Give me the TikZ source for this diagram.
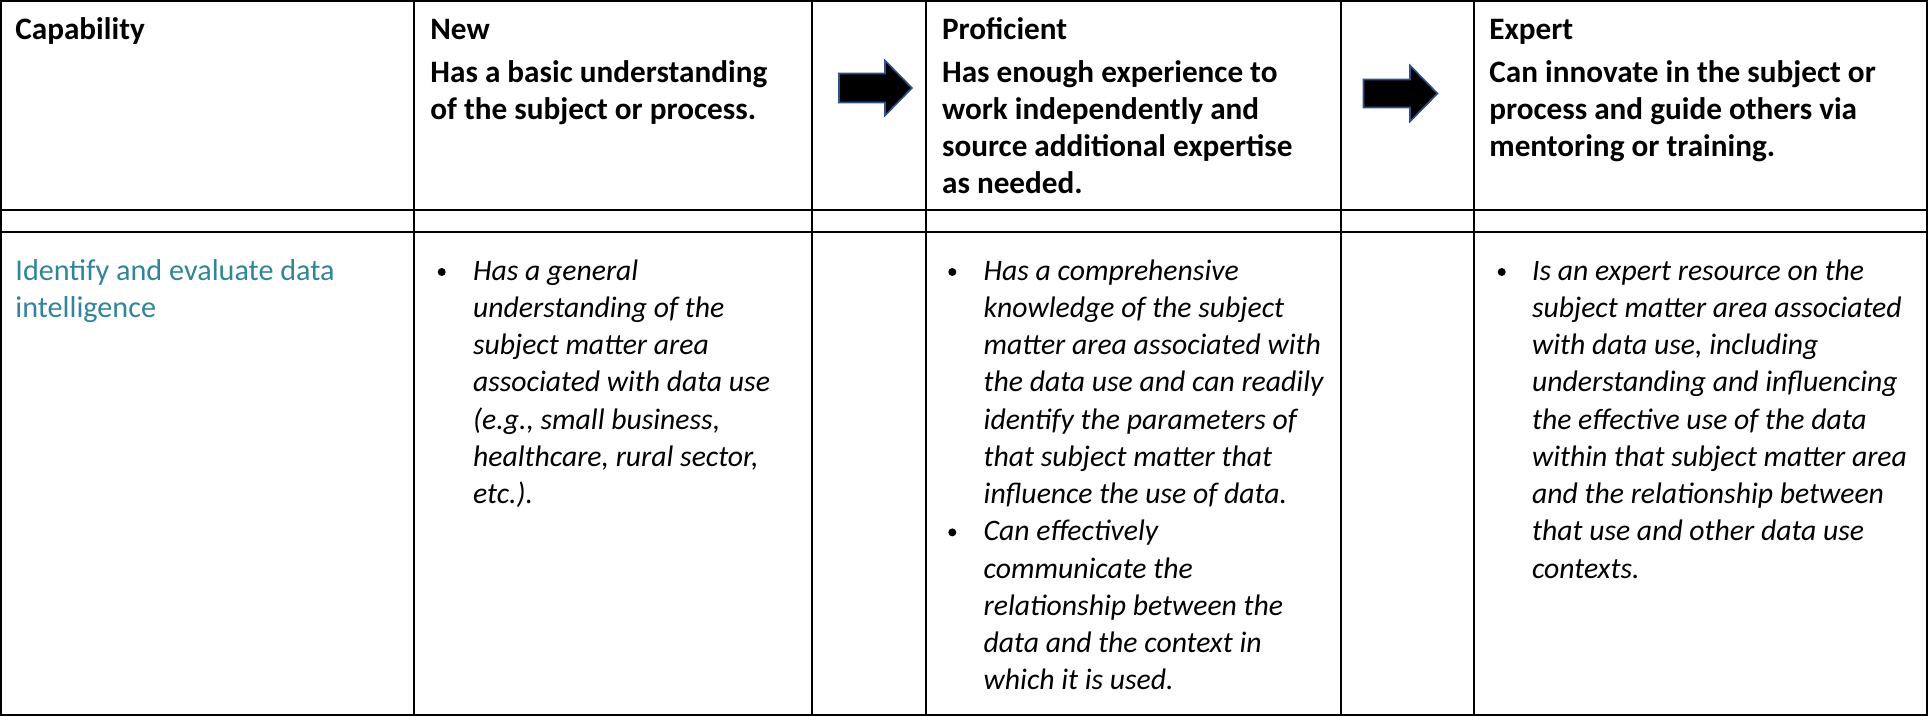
\documentclass[tikz,border=0pt]{standalone}
\usepackage{fontspec}
\setmainfont{Carlito}
\definecolor{capblue}{RGB}{49,132,155}
\definecolor{arrowline}{RGB}{47,82,143}
\begin{document}
\begin{tikzpicture}[x=0.5pt,y=-0.5pt,
  grid/.style={line width=1pt,black},
  hd/.style={anchor=north west,inner sep=0pt,align=left,font=\fontsize{15.6}{18.6}\selectfont\bfseries},
  bd/.style={anchor=north west,inner sep=0pt,align=left,font=\fontsize{14.85}{18.6}\selectfont\itshape},
  capt/.style={anchor=north west,inner sep=0pt,align=left,text=capblue,font=\fontsize{15.1}{18.6}\selectfont},
  dot/.style={circle,fill=black,inner sep=0pt,minimum size=4pt},
  bigarrow/.style={fill=black,draw=arrowline,line width=0.8pt,line join=miter}]
\useasboundingbox (0,0) rectangle (1928,716);
% table grid
\draw[grid] (1,1) rectangle (1927,715);
\draw[grid] (0,210) -- (1928,210);
\draw[grid] (0,232) -- (1928,232);
\foreach \x in {414,812,926,1341,1474}{\draw[grid] (\x,0) -- (\x,716);}
% header
\node[hd] (cap) at (15,12.96) {\strut Capability};
\node[hd] (newt) at (430,12.96) {\strut New};
\node[hd] (newd) at (430,55.96) {\strut Has a basic understanding\\of the subject or process.};
\node[hd] (prot) at (941.7,12.96) {\strut Proficient};
\node[hd] (prod) at (941.7,55.96) {\strut Has enough experience to\\work independently and\\source additional expertise\\as needed.};
\node[hd] (expt) at (1489,12.96) {\strut Expert};
\node[hd] (expd) at (1489,55.96) {\strut Can innovate in the subject or\\process and guide others via\\mentoring or training.};
% arrows
\draw[bigarrow] (839,73.5) -- (885,73.5) -- (885,60.5) -- (912,88) -- (885,115.5) -- (885,102.5) -- (839,102.5) -- cycle;
\draw[bigarrow] (1363.5,79.5) -- (1410,79.5) -- (1410,65.5) -- (1437.5,93.5) -- (1410,121.5) -- (1410,107.5) -- (1363.5,107.5) -- cycle;
% body
\node[capt] (capb) at (15,253.96) {\strut Identify and evaluate data\\intelligence};
\node[dot] (b1) at (441.7,272) {};
\node[bd] (newb) at (472.7,253.96) {\strut Has a general\\understanding of the\\subject matter area\\associated with data use\\(e.g., small business,\\healthcare, rural sector,\\etc.).};
\node[dot] (b2) at (952.3,272) {};
\node[bd] (prob1) at (983.3,253.96) {\strut Has a comprehensive\\knowledge of the subject\\matter area associated with\\the data use and can readily\\identify the parameters of\\that subject matter that\\influence the use of data.};
\node[dot] (b3) at (952.3,532.4) {};
\node[bd] (prob2) at (983.3,514.36) {\strut Can effectively\\communicate the\\relationship between the\\data and the context in\\which it is used.};
\node[dot] (b4) at (1501.7,272) {};
\node[bd] (expb) at (1531.7,253.96) {\strut Is an expert resource on the\\subject matter area associated\\with data use, including\\understanding and influencing\\the effective use of the data\\within that subject matter area\\and the relationship between\\that use and other data use\\contexts.};
\end{tikzpicture}
\end{document}
